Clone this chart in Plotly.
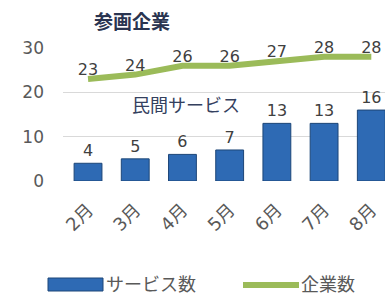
import plotly.graph_objects as go

months = ["2月", "3月", "4月", "5月", "6月", "7月", "8月"]
services = [4, 5, 6, 7, 13, 13, 16]
companies = [23, 24, 26, 26, 27, 28, 28]
yticks = [0, 10, 20, 30]
series_names = ["サービス数", "企業数"]

num_font = "DejaVu Sans, Noto Sans CJK JP"
jp_font = "Noto Sans CJK JP"
bar_color = "#2E6AB4"
line_color = "#9BBB59"

# plot area in pixels
L, R, T, B = 63, 385, 48, 181
W, H = R - L, B - T


def px(x):
    return (x - L) / W


def py(y):
    return (B - y) / H


fig = go.Figure()
fig.add_trace(go.Bar(
    x=months, y=services, name=series_names[0],
    marker=dict(color=bar_color, line=dict(color="#1D4678", width=1)),
    width=0.59, text=[str(v) for v in services], textposition="outside",
    textfont=dict(size=16, color="#404040", family=num_font), cliponaxis=False,
    showlegend=False,
))
fig.add_trace(go.Scatter(
    x=months, y=companies, name=series_names[1], mode="lines+text",
    line=dict(color=line_color, width=6),
    text=[str(v) for v in companies], textposition="top center",
    textfont=dict(size=16, color="#404040", family=num_font), cliponaxis=False,
    showlegend=False,
))

fig.add_annotation(text="<b>参画企業</b>", x=px(132), y=py(20),
                   xanchor="center", yanchor="middle",
                   xref="paper", yref="paper", showarrow=False,
                   font=dict(size=19, color="#2A3450", family=jp_font))
fig.add_annotation(text="民間サービス", x=px(186), y=py(104),
                   xanchor="center", yanchor="middle",
                   xref="paper", yref="paper", showarrow=False,
                   font=dict(size=18, color="#34405E", family=jp_font))

# custom legend
fig.add_shape(type="rect", xref="paper", yref="paper",
              x0=px(48), x1=px(103), y0=py(291), y1=py(278),
              fillcolor=bar_color, line=dict(color="#1D4678", width=1))
fig.add_shape(type="line", xref="paper", yref="paper",
              x0=px(243), x1=px(299), y0=py(285), y1=py(285),
              line=dict(color=line_color, width=6))
fig.add_annotation(text=series_names[0], x=px(104), y=py(283),
                   xanchor="left", yanchor="middle",
                   xref="paper", yref="paper", showarrow=False,
                   font=dict(size=18, color="#595959", family=jp_font))
fig.add_annotation(text=series_names[1], x=px(299), y=py(283),
                   xanchor="left", yanchor="middle",
                   xref="paper", yref="paper", showarrow=False,
                   font=dict(size=18, color="#595959", family=jp_font))

fig.update_layout(
    width=385, height=297,
    margin=dict(l=L, r=385 - R, t=T, b=297 - B, autoexpand=False),
    plot_bgcolor="white", paper_bgcolor="white",
    font=dict(family=num_font, color="#595959", size=16),
    showlegend=False,
)
fig.update_xaxes(range=[-0.53, 6.29], tickangle=-45, showgrid=False, showline=False,
                 tickfont=dict(size=18, color="#595959", family=num_font), ticks="",
                 ticklabelstandoff=14)
fig.update_yaxes(range=[0, 30], tickvals=yticks, gridcolor="#D9D9D9", zeroline=False,
                 tickfont=dict(size=17, color="#595959", family=num_font),
                 ticklabelstandoff=18)
fig.write_html("out.html", config={"displayModeBar": False},
               post_script="document.body.style.margin='0';")
